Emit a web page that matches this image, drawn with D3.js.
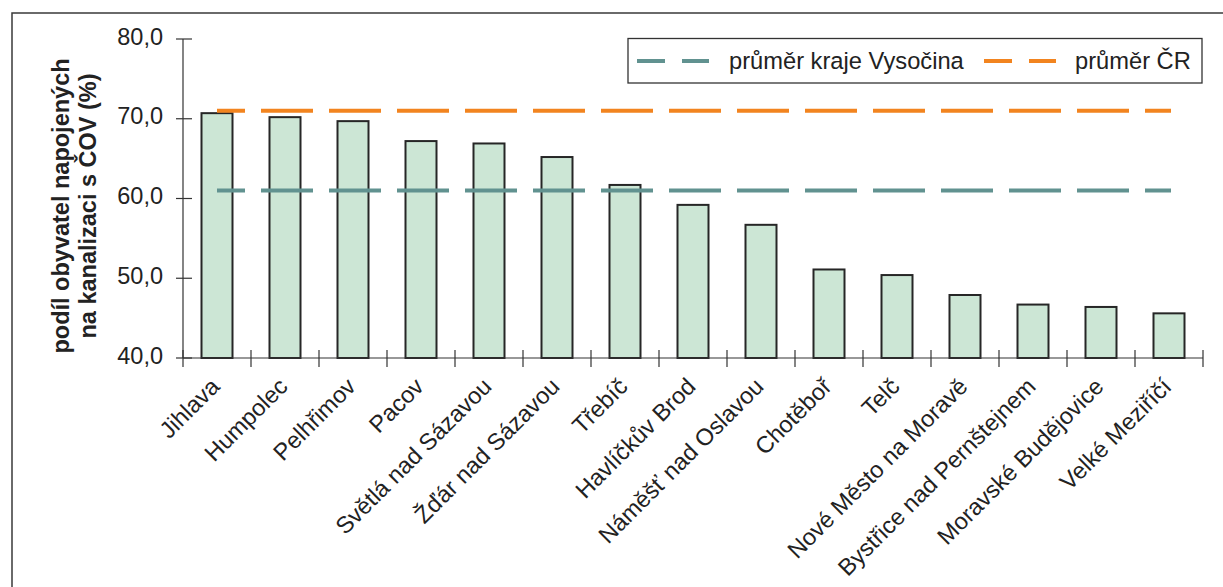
<!DOCTYPE html>
<html>
<head>
<meta charset="utf-8">
<script src="https://cdn.jsdelivr.net/npm/d3@7"></script>
<style>
  html, body { margin: 0; padding: 0; background: #fff; }
  svg { display: block; }
  text { font-family: "Liberation Sans", Arial, sans-serif; fill: #222; }
</style>
</head>
<body>
<svg id="chart" width="1223" height="587"></svg>
<script>
const categories = ["Jihlava", "Humpolec", "Pelhřimov", "Pacov", "Světlá nad Sázavou",
  "Žďár nad Sázavou", "Třebíč", "Havlíčkův Brod", "Náměšť nad Oslavou", "Chotěboř",
  "Telč", "Nové Město na Moravě", "Bystřice nad Pernštejnem", "Moravské Budějovice", "Velké Meziříčí"];
const values = [70.7, 70.2, 69.7, 67.2, 66.9, 65.2, 61.7, 59.2, 56.7, 51.1, 50.4, 47.9, 46.7, 46.4, 45.6];
const averageVysocina = 61.0;
const averageCR = 71.0;
const yTicks = [40, 50, 60, 70, 80];
const legendLabels = ["průměr kraje Vysočina", "průměr ČR"];
const yTitle = ["podíl obyvatel napojených", "na kanalizaci s ČOV (%)"];

const colors = { kraj: "#619290", cr: "#f2841f", barFill: "#cce6d5", barStroke: "#262626", axis: "#333" };

const svg = d3.select("#chart");

// frame (top and left edges visible)
svg.append("path").attr("d", "M12,587V13H1223").attr("fill", "none")
  .attr("stroke", "#3a3a3a").attr("stroke-width", 1.5);

const xc = d3.scaleBand().domain(categories).range([183, 1203]);
const y = d3.scaleLinear().domain([40, 80]).range([358, 39]);

// bars
svg.append("g").selectAll("rect").data(values).join("rect")
  .attr("x", (d, i) => xc(categories[i]) + xc.bandwidth() / 2 - 15.5)
  .attr("width", 31)
  .attr("y", d => y(d))
  .attr("height", d => y(40) - y(d))
  .attr("fill", colors.barFill)
  .attr("stroke", colors.barStroke)
  .attr("stroke-width", 2);

// y axis
const yAxis = svg.append("g");
yAxis.append("line").attr("x1", 183).attr("x2", 183).attr("y1", y(80)).attr("y2", y(40))
  .attr("stroke", colors.axis).attr("stroke-width", 1.2);
yAxis.selectAll("line.t").data(yTicks).join("line").attr("class", "t")
  .attr("x1", 176).attr("x2", 192).attr("y1", d => y(d)).attr("y2", d => y(d))
  .attr("stroke", colors.axis).attr("stroke-width", 1.2);
yAxis.selectAll("text").data(yTicks).join("text")
  .attr("x", 163).attr("y", d => y(d) - 2.5).attr("dy", "0.35em")
  .attr("text-anchor", "end").attr("font-size", 23.5)
  .text(d => d3.format(".1f")(d).replace(".", ","));

// x axis
const xAxis = svg.append("g");
xAxis.append("line").attr("x1", 183).attr("x2", 1203).attr("y1", y(40)).attr("y2", y(40))
  .attr("stroke", colors.axis).attr("stroke-width", 1.2);
const bounds = categories.map(c => xc(c)).concat([xc.range()[1]]);
xAxis.selectAll("line.t").data(bounds).join("line").attr("class", "t")
  .attr("x1", d => d).attr("x2", d => d).attr("y1", y(40) - 8).attr("y2", y(40) + 9)
  .attr("stroke", colors.axis).attr("stroke-width", 1.2);
xAxis.selectAll("text").data(categories).join("text")
  .attr("text-anchor", "end").attr("font-size", 23.5)
  .attr("transform", d => `translate(${xc(d) + xc.bandwidth() / 2 + 4},${y(40) + 30}) rotate(-45)`)
  .text(d => d);

// average lines
const first = xc(categories[0]) + xc.bandwidth() / 2;
const last = xc(categories[categories.length - 1]) + xc.bandwidth() / 2;
[[averageVysocina, colors.kraj], [averageCR, colors.cr]].forEach(([v, c]) => {
  svg.append("line").attr("x1", first).attr("x2", last + 2).attr("y1", y(v)).attr("y2", y(v))
    .attr("stroke", c).attr("stroke-width", 4)
    .attr("stroke-dasharray", "52,16").attr("stroke-dashoffset", 24);
});

// y title
const yt = svg.append("text").attr("font-size", 23.5).attr("font-weight", "bold")
  .attr("text-anchor", "middle").attr("transform", "translate(69,206) rotate(-90)");
yTitle.forEach((t, i) => yt.append("tspan").attr("x", 0).attr("y", i * 26.5).text(t));

// legend
const lg = svg.append("g");
lg.append("rect").attr("x", 628).attr("y", 38.5).attr("width", 574).attr("height", 44.5)
  .attr("fill", "#fff").attr("stroke", "#333").attr("stroke-width", 1.3);
const legendItems = [
  { label: legendLabels[0], color: colors.kraj, lx: 637, tx: 729 },
  { label: legendLabels[1], color: colors.cr, lx: 984, tx: 1075 }
];
legendItems.forEach(it => {
  lg.append("line").attr("x1", it.lx).attr("x2", it.lx + 72).attr("y1", 61).attr("y2", 61)
    .attr("stroke", it.color).attr("stroke-width", 4).attr("stroke-dasharray", "28,17");
  lg.append("text").attr("x", it.tx).attr("y", 61).attr("dy", "0.35em")
    .attr("font-size", 23.7).text(it.label);
});
</script>
</body>
</html>
